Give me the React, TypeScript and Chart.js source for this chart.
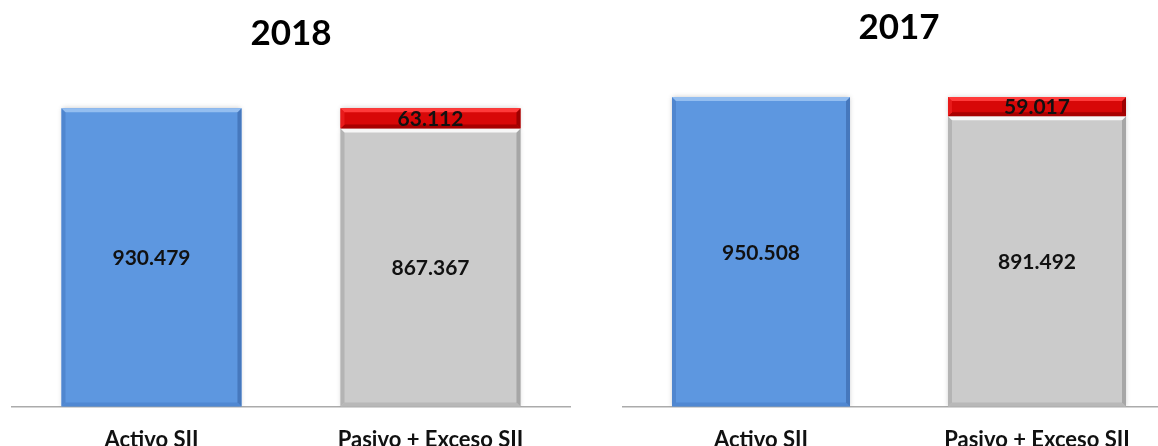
import React, { useEffect, useRef } from "react";
import { Chart, registerables } from "chart.js";

Chart.register(...registerables);

const years = ["2018", "2017"];
const categories = ["Activo SII", "Pasivo + Exceso SII"];
const activo = [930479, 950508];
const pasivo = [867367, 891492];
const exceso = [63112, 59017];

const FONT = "Lato, 'Open Sans', sans-serif";
const BLUE = "#5D97E0";
const GRAY = "#CBCBCB";
const RED = "#D80808";

const bevelStyles: Record<string, { top: string; left: string; right: string; bottom: string }> = {
  [BLUE]: { top: "#94BEF0", left: "#4F86CF", right: "#4678BD", bottom: "#5088D2" },
  [GRAY]: { top: "#F7F7F7", left: "#B4B4B4", right: "#A6A6A6", bottom: "#B8B8B8" },
  [RED]: { top: "#FF3A3A", left: "#E81A1A", right: "#9E0000", bottom: "#A80000" },
};

function fmt(v: number): string {
  return String(Math.round(v)).replace(/\B(?=(\d{3})+(?!\d))/g, ".");
}

const bevelPlugin = {
  id: "bevel",
  beforeDatasetsDraw(chart: any) {
    const ctx = chart.ctx;
    ctx.save();
    ctx.shadowColor = "rgba(0,0,0,0.22)";
    ctx.shadowBlur = 5;
  },
  afterDatasetsDraw(chart: any) {
    const ctx = chart.ctx;
    ctx.restore();
    chart.data.datasets.forEach((ds: any, di: number) => {
      const meta = chart.getDatasetMeta(di);
      meta.data.forEach((el: any, i: number) => {
        const v = ds.data[i];
        if (v == null) return;
        const p = el.getProps(["x", "y", "base", "width"], true);
        const left = p.x - p.width / 2;
        const right = p.x + p.width / 2;
        const top = Math.min(p.y, p.base);
        const bottom = Math.max(p.y, p.base);
        const color = Array.isArray(ds.backgroundColor) ? ds.backgroundColor[i] : ds.backgroundColor;
        const st = bevelStyles[color];
        if (!st) return;
        const b = 4;
        ctx.save();
        const poly = (pts: number[][], c: string) => {
          ctx.beginPath();
          ctx.moveTo(pts[0][0], pts[0][1]);
          for (let k = 1; k < pts.length; k++) ctx.lineTo(pts[k][0], pts[k][1]);
          ctx.closePath();
          ctx.fillStyle = c;
          ctx.fill();
        };
        poly([[left, bottom], [left + b, bottom - b], [right - b, bottom - b], [right, bottom]], st.bottom);
        poly([[left, top], [left + b, top + b], [left + b, bottom - b], [left, bottom]], st.left);
        poly([[right, top], [right - b, top + b], [right - b, bottom - b], [right, bottom]], st.right);
        poly([[left, top], [right, top], [right - b, top + b], [left + b, top + b]], st.top);
        ctx.restore();
      });
    });
    // value labels
    ctx.save();
    ctx.font = `bold 21px ${FONT}`;
    ctx.fillStyle = "#111111";
    ctx.textAlign = "center";
    ctx.textBaseline = "middle";
    chart.data.datasets.forEach((ds: any, di: number) => {
      const meta = chart.getDatasetMeta(di);
      meta.data.forEach((el: any, i: number) => {
        const v = ds.data[i];
        if (v == null) return;
        const p = el.getProps(["x", "y", "base"], true);
        ctx.fillText(fmt(v), p.x, (p.y + p.base) / 2 + 1);
      });
    });
    ctx.restore();
  },
};

type Cfg = { yearIdx: number; padLeft: number; padRight: number; titleTop: number; titleBottom: number };

const CANVAS_H = 492;

function YearChart({ cfg, width, left }: { cfg: Cfg; width: number; left: number }) {
  const ref = useRef<HTMLCanvasElement | null>(null);
  useEffect(() => {
    if (!ref.current) return;
    const i = cfg.yearIdx;
    const chart = new Chart(ref.current, {
      type: "bar",
      data: {
        labels: categories,
        datasets: [
          {
            label: "Base",
            data: [activo[i], pasivo[i]],
            backgroundColor: [BLUE, GRAY],
            stack: "s",
            barPercentage: 0.645,
            categoryPercentage: 1,
          },
          {
            label: "Exceso SII",
            data: [null, exceso[i]],
            backgroundColor: RED,
            stack: "s",
            barPercentage: 0.645,
            categoryPercentage: 1,
          },
        ],
      },
      options: {
        responsive: false,
        animation: false,
        devicePixelRatio: 1,
        layout: { padding: { left: cfg.padLeft, right: cfg.padRight, top: 0, bottom: 19 } },
        plugins: {
          legend: { display: false },
          tooltip: { enabled: false },
          title: {
            display: true,
            text: years[i],
            color: "#000000",
            font: { family: FONT, size: 35, weight: "bold" },
            padding: { top: cfg.titleTop, bottom: cfg.titleBottom },
          },
        },
        scales: {
          x: {
            stacked: true,
            grid: { display: false, drawTicks: false },
            border: { display: true, color: "#ABABAB", width: 1.5 },
            ticks: { color: "#111111", font: { family: FONT, size: 22, weight: "bold" }, padding: 20 },
          },
          y: {
            stacked: true,
            display: false,
            min: 0,
            max: 1000000,
          },
        },
      },
      plugins: [bevelPlugin],
    } as any);
    return () => chart.destroy();
  }, []);
  return (
    <canvas
      ref={ref}
      width={width}
      height={CANVAS_H}
      style={{ position: "absolute", left, top: 0, width, height: CANVAS_H }}
    />
  );
}

export default function App() {
  return (
    <div
      style={{
        position: "absolute",
        left: 0,
        top: 0,
        width: 1158,
        height: 446,
        overflow: "hidden",
        background: "#ffffff",
      }}
    >
      <YearChart cfg={{ yearIdx: 0, padLeft: 12, padRight: 10, titleTop: 13, titleBottom: 31 }} width={580} left={0} />
      <YearChart cfg={{ yearIdx: 1, padLeft: 43, padRight: 45, titleTop: 7, titleBottom: 32 }} width={640} left={580} />
    </div>
  );
}
